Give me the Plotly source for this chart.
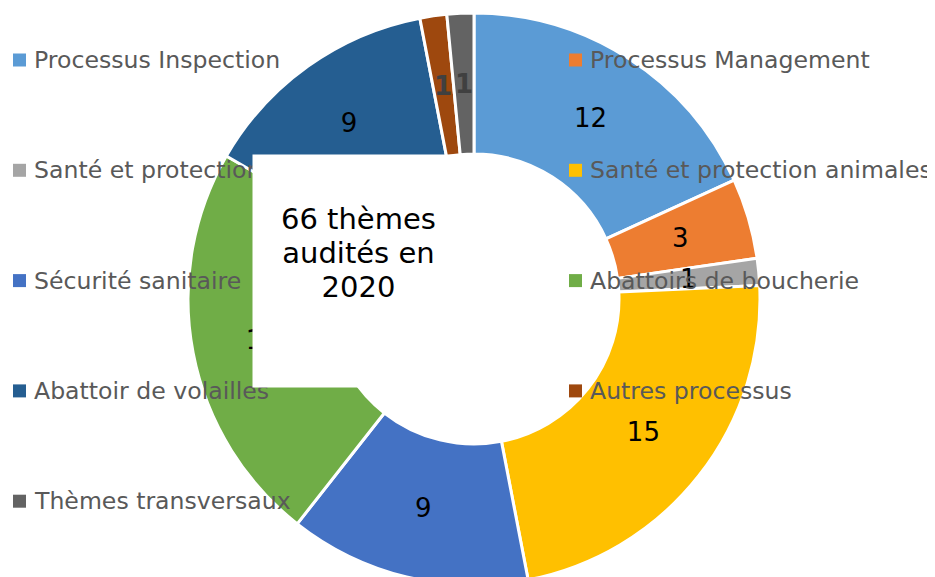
import math
import plotly.graph_objects as go

# ---- data ----
labels = ["Processus Inspection", "Processus Management", "Santé et protection des végétaux",
          "Santé et protection animales", "Sécurité sanitaire", "Abattoirs de boucherie",
          "Abattoir de volailles", "Autres processus", "Thèmes transversaux"]
values = [12, 3, 1, 15, 9, 15, 9, 1, 1]
colors = ["#5B9BD5", "#ED7D31", "#A5A5A5", "#FFC000", "#4472C4", "#70AD47",
          "#255E91", "#9E480E", "#636363"]
label_colors = ["#000000"] * 7 + ["#404040"] * 2
label_bold = [False] * 7 + [True] * 2
center_lines = [f"{sum(values)} thèmes", "audités en", "2020"]

# ---- layout constants (page pixels; the page body adds an 8px offset) ----
W, H = 935, 577
OFF = 8
ML, MT = 0, 5
PW, PH = W - ML, H - MT
FONT = "DejaVu Sans"


def px(x):
    return (x - OFF - ML) / PW


def py(y):
    return 1 - (y - OFF - MT) / PH


total = sum(values)
HOLE = 0.507
cx, cy, r = 474, OFF + MT + PH / 2, PH / 2

# slices too narrow for plotly to centre their label on the ring get a mid-ring label
thin = [1 / (1 + 1 / math.sin(math.pi * v / total)) < (1 - HOLE) / 2 for v in values]

templates = []
for b, t in zip(label_bold, thin):
    if t:
        templates.append("")
    else:
        templates.append("<b>%{value}</b>" if b else "%{value}")

fig = go.Figure(go.Pie(
    labels=labels, values=values, sort=False, direction="clockwise", rotation=0,
    hole=HOLE,
    marker=dict(colors=colors, line=dict(color="white", width=3)),
    texttemplate=templates, textposition="inside", insidetextorientation="horizontal",
    insidetextfont=dict(family=FONT, size=26, color=label_colors),
    domain=dict(x=[px(cx - r), px(cx + r)], y=[0, 1]),
    showlegend=False, hoverinfo="label+value",
))

shapes, annotations = [], []

rmid = r * (1 + HOLE) / 2
cum = 0
for v, c, b, t in zip(values, label_colors, label_bold, thin):
    a = (cum + v / 2) / total * 2 * math.pi
    cum += v
    if not t:
        continue
    annotations.append(dict(xref="paper", yref="paper",
                            x=px(cx + rmid * math.sin(a)), y=py(cy - rmid * math.cos(a)),
                            xanchor="center", yanchor="middle", showarrow=False,
                            text=f"<b>{v}</b>" if b else str(v),
                            font=dict(family=FONT, size=26, color=c)))

# legend (two columns)
row0, row_gap = 60, 110.3
col_x = [13, 569]
sq = 13
for i, (lab, col) in enumerate(zip(labels, colors)):
    row, c = divmod(i, 2)
    yc = row0 + row * row_gap
    x0 = col_x[c]
    shapes.append(dict(type="rect", xref="paper", yref="paper",
                       x0=px(x0), x1=px(x0 + sq), y0=py(yc - sq / 2), y1=py(yc + sq / 2),
                       fillcolor=col, line=dict(width=0), layer="above"))
    annotations.append(dict(xref="paper", yref="paper", x=px(x0 + 20), y=py(yc),
                            xanchor="left", yanchor="middle", showarrow=False,
                            text=lab, borderpad=0,
                            font=dict(family=FONT, size=23.6, color="#595959")))

# white box with centre text
bx0, bx1, by0, by1 = 253, 463, 155, 387
annotations.append(dict(xref="paper", yref="paper", x=px((bx0 + bx1) / 2), y=py((by0 + by1) / 2),
                        xanchor="center", yanchor="middle", showarrow=False, text=" ",
                        width=bx1 - bx0, height=by1 - by0, bgcolor="white", borderpad=0))
annotations.append(dict(xref="paper", yref="paper", x=px(358), y=py(253),
                        xanchor="center", yanchor="middle", showarrow=False,
                        text="<br>".join(f'<span style="font-size:29px">{t}</span>' for t in center_lines),
                        font=dict(family=FONT, size=26, color="#000000")))

fig.update_layout(
    width=W, height=H, margin=dict(l=ML, r=0, t=MT, b=0),
    paper_bgcolor="white", plot_bgcolor="white",
    font=dict(family=FONT),
    uniformtext=dict(minsize=26, mode="show"),
    showlegend=False, shapes=shapes, annotations=annotations,
)
fig.write_html("out.html")
